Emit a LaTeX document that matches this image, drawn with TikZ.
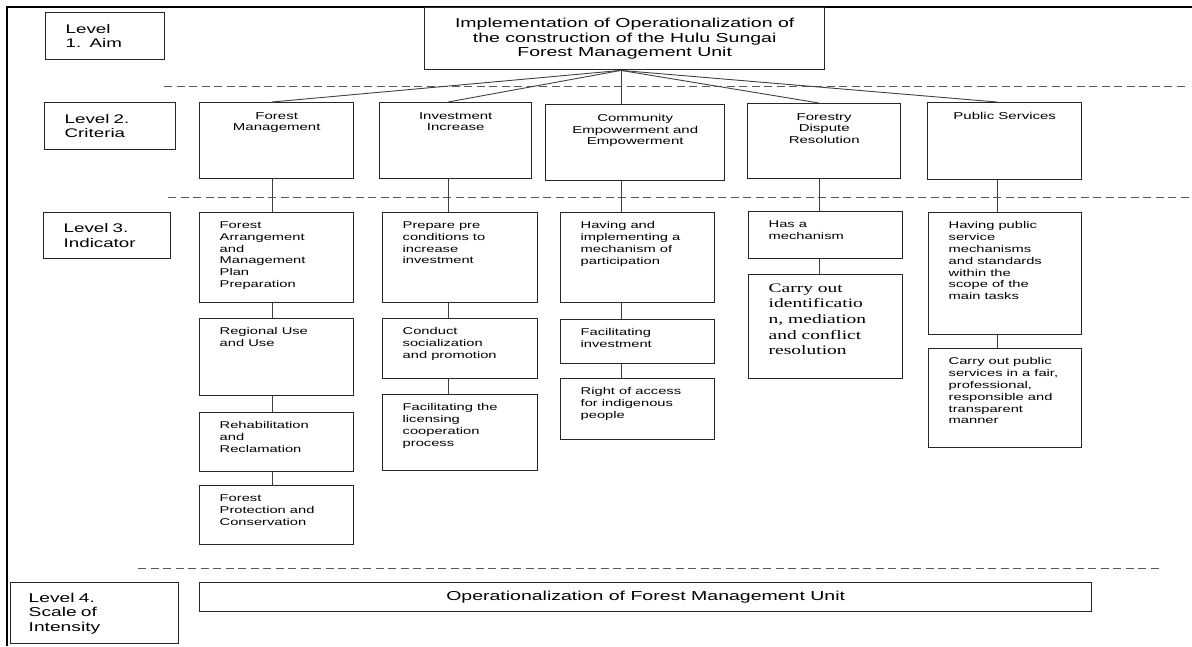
\documentclass[tikz,border=0pt]{standalone}
\usepackage{fontspec}
\setmainfont{Liberation Sans}[FakeStretch=1.5]
\newfontfamily\timesw{Liberation Serif}[FakeStretch=1.5]

\newcommand{\intext}[3]{\begin{minipage}[t][#2pt][t]{#1pt}\raggedright\leftskip=20pt\relax\vspace*{9pt}#3\end{minipage}}
\newcommand{\crtext}[3]{\begin{minipage}[t][#2pt][t]{#1pt}\centering\vspace*{10pt}#3\end{minipage}}

\begin{document}
\begin{tikzpicture}[x=1pt, y=-1pt,
  box/.style={draw=black!85, line width=1.4pt, anchor=north west, inner sep=0pt},
  lvlbox/.style={box, inner xsep=20pt, align=left, font=\fontsize{12.5}{14.5}\selectfont},
  critbox/.style={box, font=\fontsize{10}{11.3}\selectfont},
  indbox/.style={box, font=\fontsize{9.8}{11.8}\selectfont},
  link/.style={black!75, line width=0.9pt},
  level/.style={black!65, line width=0.9pt, dash pattern=on 8pt off 4.5pt}]
 \useasboundingbox (0,0) rectangle (1192,646);
 \draw[line width=2.4pt] (7,646) -- (7,7) -- (1192,7);

 \draw[level] (164,86) -- (1185,86);
 \draw[level] (168,197) -- (1192,197);
 \draw[level] (138,568) -- (1160,568);

 \node[box, minimum width=400, minimum height=62, align=center, font=\fontsize{13}{14.5}\selectfont] (aim) at (424,7) {Implementation of Operationalization of\\the construction of the Hulu Sungai\\Forest Management Unit};

 \node[lvlbox, text width=79pt, minimum height=47] (lv1) at (45,12) {Level\\1.\ \ Aim};
 \node[lvlbox, text width=91pt, minimum height=47] (lv2) at (44,102) {Level 2.\\Criteria};
 \node[lvlbox, text width=87pt, minimum height=46] (lv3) at (43,212) {Level 3.\\Indicator};
 \node[lvlbox, inner xsep=18pt, text width=132pt, minimum height=61, font=\fontsize{12.8}{14.5}\selectfont] (lv4) at (10,582) {Level 4.\\Scale of\\Intensity};

 \node[critbox] (cr1) at (199,102) {\crtext{154}{76}{Forest\\Management}};
 \node[critbox] (cr2) at (379,102) {\crtext{152}{76}{Investment\\Increase}};
 \node[critbox] (cr3) at (545,104) {\crtext{179}{76}{Community\\Empowerment and\\Empowerment}};
 \node[critbox] (cr4) at (747,103) {\crtext{153}{75}{Forestry\\Dispute\\Resolution}};
 \node[critbox] (cr5) at (927,102) {\crtext{154}{77}{Public Services}};

 \node[indbox] (in11) at (199,212) {\intext{154}{90}{Forest\\Arrangement\\and\\Management\\Plan\\Preparation}};
 \node[indbox] (in12) at (199,318) {\intext{154}{77}{Regional Use\\and Use}};
 \node[indbox] (in13) at (199,412) {\intext{154}{59}{Rehabilitation\\and\\Reclamation}};
 \node[indbox] (in14) at (199,485) {\intext{154}{59}{Forest\\Protection and\\Conservation}};

 \node[indbox] (in21) at (382,212) {\intext{155}{90}{Prepare pre\\conditions to\\increase\\investment}};
 \node[indbox] (in22) at (382,318) {\intext{155}{60}{Conduct\\socialization\\and promotion}};
 \node[indbox] (in23) at (382,394) {\intext{155}{76}{Facilitating the\\licensing\\cooperation\\process}};

 \node[indbox] (in31) at (560,212) {\intext{154}{90}{Having and\\implementing a\\mechanism of\\participation}};
 \node[indbox] (in32) at (560,319) {\intext{154}{44}{Facilitating\\investment}};
 \node[indbox] (in33) at (560,378) {\intext{154}{61}{Right of access\\for indigenous\\people}};

 \node[indbox] (in41) at (748,211) {\intext{154}{47}{Has a\\mechanism}};
 \node[indbox, font=\timesw\fontsize{13}{15.6}\selectfont] (in42) at (748,274) {\intext{154}{104}{Carry out\\identificatio\\n, mediation\\and conflict\\resolution}};

 \node[indbox] (in51) at (928,212) {\intext{153}{122}{Having public\\service\\mechanisms\\and standards\\within the\\scope of the\\main tasks}};
 \node[indbox] (in52) at (928,348) {\intext{153}{99}{Carry out public\\services in a fair,\\professional,\\responsible and\\transparent\\manner}};

 \node[box, minimum width=892, minimum height=29, font=\fontsize{13}{15}\selectfont] (unit) at (199,582) {Operationalization of Forest Management Unit};

 \coordinate (k1) at (272,0);
 \coordinate (k2) at (448,0);
 \coordinate (k3) at (621,0);
 \coordinate (k4) at (819,0);
 \coordinate (k5) at (997,0);
 \coordinate (fan) at (aim.south -| k3);

 \draw[link] (fan) -- (cr1.north -| k1);
 \draw[link] (fan) -- (cr2.north -| k2);
 \draw[link] (fan) -- (cr3.north -| k3);
 \draw[link] (fan) -- (cr4.north -| k4);
 \draw[link] (fan) -- (cr5.north -| k5);

 \draw[link] (cr1.south -| k1) -- (in11.north -| k1) (in11.south -| k1) -- (in12.north -| k1)
   (in12.south -| k1) -- (in13.north -| k1) (in13.south -| k1) -- (in14.north -| k1);
 \draw[link] (cr2.south -| k2) -- (in21.north -| k2) (in21.south -| k2) -- (in22.north -| k2)
   (in22.south -| k2) -- (in23.north -| k2);
 \draw[link] (cr3.south -| k3) -- (in31.north -| k3) (in31.south -| k3) -- (in32.north -| k3)
   (in32.south -| k3) -- (in33.north -| k3);
 \draw[link] (cr4.south -| k4) -- (in41.north -| k4) (in41.south -| k4) -- (in42.north -| k4);
 \draw[link] (cr5.south -| k5) -- (in51.north -| k5) (in51.south -| k5) -- (in52.north -| k5);
\end{tikzpicture}
\end{document}
